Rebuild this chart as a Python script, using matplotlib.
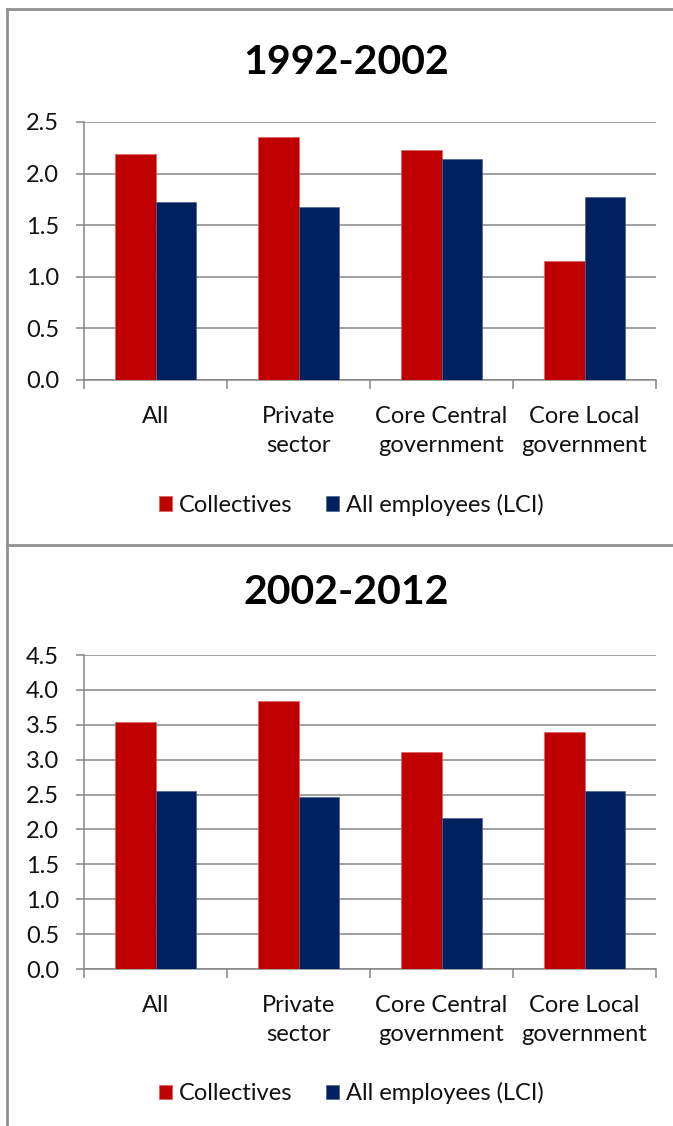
import matplotlib
matplotlib.use("Agg")
from matplotlib import pyplot as plt
from matplotlib.lines import Line2D
from matplotlib.ticker import FormatStrFormatter

# data
categories = ["All", "Private\nsector", "Core Central\ngovernment", "Core Local\ngovernment"]
series_names = ["Collectives", "All employees (LCI)"]
collectives_92 = [2.19, 2.35, 2.23, 1.15]
lci_92 = [1.72, 1.68, 2.14, 1.77]
collectives_02 = [3.54, 3.84, 3.11, 3.39]
lci_02 = [2.55, 2.47, 2.16, 2.55]
yticks_92 = [0.0, 0.5, 1.0, 1.5, 2.0, 2.5]
yticks_02 = [0.0, 0.5, 1.0, 1.5, 2.0, 2.5, 3.0, 3.5, 4.0, 4.5]

red = "#C00000"
navy = "#002060"
grey = "#868686"

plt.rcParams['font.family'] = ['Lato', 'DejaVu Sans']

fig = plt.figure(figsize=(6.73, 11.26), dpi=100)


def panel(rect, coll, lci, yticks, title, title_y, legend_y):
    ax = fig.add_axes(rect)
    x = list(range(len(categories)))
    w = 2 / 7
    ax.bar([i - w / 2 for i in x], coll, w, color=red, edgecolor="#e06060", linewidth=0.5,
           label=series_names[0], zorder=3)
    ax.bar([i + w / 2 for i in x], lci, w, color=navy, edgecolor="#4a6090", linewidth=0.5,
           label=series_names[1], zorder=3)
    ax.set_xlim(-0.5, len(categories) - 0.5)
    ax.set_ylim(yticks[0], yticks[-1])
    ax.set_yticks(yticks)
    ax.yaxis.set_major_formatter(FormatStrFormatter('%.1f'))
    ax.grid(axis='y', color=grey, linewidth=1.1, zorder=0)
    ax.set_axisbelow(True)
    for s in ['top', 'right']:
        ax.spines[s].set_visible(False)
    for s in ['left', 'bottom']:
        ax.spines[s].set_color(grey)
        ax.spines[s].set_linewidth(1.1)
    # category boundaries as major ticks, names on minor ticks
    ax.set_xticks([i - 0.5 for i in range(len(categories) + 1)])
    ax.set_xticklabels([])
    ax.set_xticks(x, minor=True)
    ax.set_xticklabels(categories, minor=True, fontsize=17, color="#111111", linespacing=1.45)
    ax.tick_params(axis='x', which='major', length=6.5, width=1.1, color=grey, direction='out')
    ax.tick_params(axis='x', which='minor', length=0, pad=19)
    ax.tick_params(axis='y', length=6, width=1.1, color=grey, labelsize=17,
                   labelcolor="#111111", pad=12)
    leg = ax.legend(loc='center', bbox_to_anchor=(0.467, legend_y), ncol=2, frameon=False,
                    fontsize=17, handlelength=0.55, handleheight=0.55, handletextpad=0.3,
                    columnspacing=1.4)
    for t in leg.get_texts():
        t.set_color("#111111")
    fig.text(0.515, title_y, title, ha='center', va='center', fontsize=29.5,
             fontweight='bold', color="black")
    return ax


panel([84 / 673, 1 - 380 / 1126, 572 / 673, 258 / 1126], collectives_92, lci_92,
      yticks_92, "1992-2002", 1 - 62 / 1126, -0.484)
panel([84 / 673, 1 - 969 / 1126, 572 / 673, 314 / 1126], collectives_02, lci_02,
      yticks_02, "2002-2012", 1 - 593 / 1126, -0.395)

# chart frames
bc = "#909090"
fig.add_artist(Line2D([7 / 673, 7 / 673], [0, 1 - 9 / 1126], color=bc, lw=2))
fig.add_artist(Line2D([7 / 673, 1], [1 - 9 / 1126, 1 - 9 / 1126], color=bc, lw=2))
fig.add_artist(Line2D([7 / 673, 1], [1 - 545 / 1126, 1 - 545 / 1126], color=bc, lw=2))

plt.savefig("out.png", dpi=100)
